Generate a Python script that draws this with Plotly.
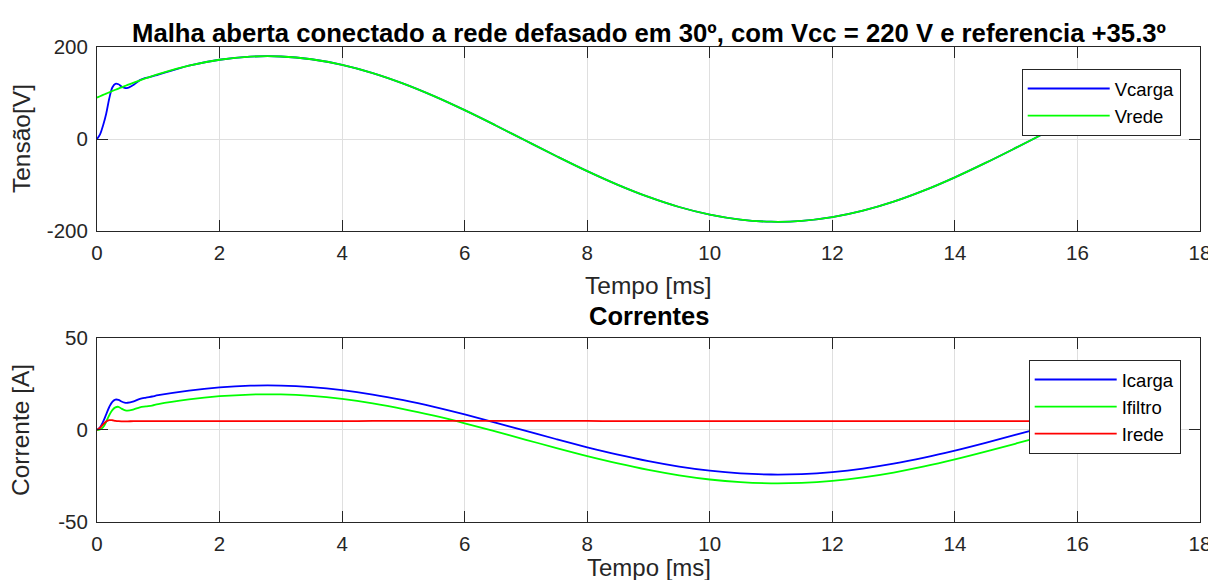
import plotly.graph_objects as go

# time axis [ms]
tempo = [0, 0.05, 0.1, 0.15, 0.2, 0.25, 0.3, 0.35, 0.4, 0.45, 0.5, 0.6, 0.7, 0.8, 0.9, 1.0,
         1.5, 2.0, 2.5, 3.0, 3.5, 4.0, 4.5, 5.0, 5.5, 6.0, 6.5, 7.0, 7.5, 8.0, 8.5, 9.0,
         9.5, 10.0, 10.5, 11.0, 11.5, 12.0, 12.5, 13.0, 13.5, 14.0, 14.5, 15.0, 15.5,
         16.0, 16.5, 16.7]

# tensoes [V]
vcarga = [0, 10, 30, 55, 88, 112, 120, 119, 114, 111, 111, 118, 128, 133, 136, 140,
          159.5, 172.3, 179.0, 179.4, 173.4, 161.2, 143.4, 120.4, 93.2, 62.7, 30.0, -3.8,
          -37.4, -69.8, -99.6, -125.9, -147.8, -164.4, -175.3, -179.8, -178.1, -170.0,
          -155.9, -136.3, -111.8, -83.4, -52.0, -18.8, 15.1, 48.4, 80.0, 91.9]
vrede = [90.0, 92.9, 95.8, 98.7, 101.5, 104.3, 107.0, 109.7, 112.4, 115.0, 117.6, 122.7,
         127.5, 132.2, 136.8, 141.1,
         159.5, 172.3, 179.0, 179.4, 173.4, 161.2, 143.4, 120.4, 93.2, 62.7, 30.0, -3.8,
         -37.4, -69.8, -99.6, -125.9, -147.8, -164.4, -175.3, -179.8, -178.1, -170.0,
         -155.9, -136.3, -111.8, -83.4, -52.0, -18.8, 15.1, 48.4, 80.0, 91.9]

# correntes [A]
icarga = [0, 1.5, 4.5, 8.5, 12.5, 15.3, 16.5, 16.4, 15.5, 14.9, 14.8, 15.6, 16.9, 17.6,
          18.2, 18.9,
          21.45, 23.17, 24.07, 24.12, 23.31, 21.68, 19.28, 16.19, 12.54, 8.44, 4.04, -0.51,
          -5.03, -9.38, -13.39, -16.93, -19.87, -22.11, -23.56, -24.18, -23.94, -22.85,
          -20.96, -18.32, -15.03, -11.21, -6.99, -2.53, 2.03, 6.51, 10.76, 12.35]
ifiltro = [0, 0.3, 1.5, 4.5, 8.0, 10.8, 12.3, 12.6, 11.6, 10.8, 10.5, 11.2, 12.3, 12.8,
           13.3, 14.1,
           16.65, 18.37, 19.27, 19.32, 18.51, 16.88, 14.48, 11.39, 7.74, 3.64, -0.76, -5.31,
           -9.83, -14.18, -18.19, -21.73, -24.67, -26.91, -28.36, -28.98, -28.74, -27.65,
           -25.76, -23.12, -19.83, -16.01, -11.79, -7.33, -2.77, 1.71, 5.96, 7.55]
irede = [0, 1.2, 3.0, 4.6, 5.3, 5.3, 5.0, 4.8, 4.7, 4.7, 4.7, 4.8, 4.8, 4.8, 4.8, 4.8,
         4.8, 4.8, 4.8, 4.8, 4.8, 4.8, 4.9, 4.9, 4.9, 4.9, 4.9, 4.9, 4.9, 4.9, 4.8, 4.8,
         4.8, 4.8, 4.8, 4.8, 4.8, 4.8, 4.8, 4.8, 4.8, 4.8, 4.8, 4.8, 4.8, 4.8, 4.8, 4.8]

# tick labels
x_ticks = [0, 2, 4, 6, 8, 10, 12, 14, 16, 18]
v_ticks = [-200, 0, 200]
i_ticks = [-50, 0, 50]

FONT = 'Liberation Sans, Arial, sans-serif'
DARK = '#262626'
GRID = '#DFDFDF'

fig = go.Figure()

def linha(y, nome, cor, eixo, leg):
    fig.add_trace(go.Scatter(x=tempo, y=y, name=nome, mode='lines',
                             line=dict(color=cor, width=1.8, shape='spline'),
                             xaxis=eixo[0], yaxis=eixo[1], legend=leg))

linha(vcarga, 'Vcarga', '#0000FF', ('x', 'y'), 'legend')
linha(vrede, 'Vrede', '#00FF00', ('x', 'y'), 'legend')
linha(icarga, 'Icarga', '#0000FF', ('x2', 'y2'), 'legend2')
linha(ifiltro, 'Ifiltro', '#00FF00', ('x2', 'y2'), 'legend2')
linha(irede, 'Irede', '#FF0000', ('x2', 'y2'), 'legend2')

comum = dict(showline=True, linecolor=DARK, linewidth=1, mirror='ticks',
             ticks='inside', ticklen=11, tickcolor=DARK, showgrid=True,
             gridcolor=GRID, zeroline=False, automargin=False,
             tickfont=dict(size=20.5, color=DARK, family=FONT))

eixo_x = dict(comum, range=[0, 18], tickvals=x_ticks,
              ticktext=[str(v) for v in x_ticks], ticklabelstandoff=3)

fig.update_layout(
    # the page adds an 8px body margin: figure shifted by 8px and sized to fit the window
    width=1208, height=572,
    plot_bgcolor='white', paper_bgcolor='white',
    margin=dict(l=89, r=16, t=39, b=58),
    font=dict(family=FONT, color=DARK),
    xaxis=dict(eixo_x, domain=[0, 1], anchor='y'),
    xaxis2=dict(eixo_x, domain=[0, 1], anchor='y2'),
    yaxis=dict(comum, domain=[0.6126, 1], anchor='x', range=[-200, 200],
               tickvals=v_ticks, ticktext=[str(v) for v in v_ticks], ticklabelstandoff=4),
    yaxis2=dict(comum, domain=[0, 0.3874], anchor='x2', range=[-50, 50],
                tickvals=i_ticks, ticktext=[str(v) for v in i_ticks], ticklabelstandoff=4),
    legend=dict(x=0.9825, y=0.9537, xanchor='right', yanchor='top', bgcolor='white',
                bordercolor=DARK, borderwidth=1, itemwidth=82,
                font=dict(size=18.5, color='black', family=FONT), tracegroupgap=0),
    legend2=dict(x=0.9825, y=0.3411, xanchor='right', yanchor='top', bgcolor='white',
                 bordercolor=DARK, borderwidth=1, itemwidth=82,
                 font=dict(size=18.5, color='black', family=FONT), tracegroupgap=0),
)

def texto(t, x, y, tam, cor, ang=0):
    fig.add_annotation(text=t, x=x, y=y, xref='paper', yref='paper', showarrow=False,
                       xanchor='center', yanchor='middle', textangle=ang,
                       font=dict(size=tam, color=cor, family=FONT))

# page px -> paper: x = (px-97)/1103, y = (522-py)/475
texto('<b>Malha aberta conectado a rede defasado em 30º, com Vcc = 220 V e referencia +35.3º</b>',
      0.5, 1.0295, 25.7, 'black')
texto('<b>Correntes</b>', 0.5, 0.4347, 25.5, 'black')
texto('Tempo [ms]', 0.5, 0.497, 24.5, DARK)
texto('Tempo [ms]', 0.5, -0.095, 24, DARK)
texto('Tensão[V]', -0.0689, 0.8063, 24.5, DARK, -90)
texto('Corrente [A]', -0.0689, 0.1937, 24.5, DARK, -90)

fig.write_html("out.html")
